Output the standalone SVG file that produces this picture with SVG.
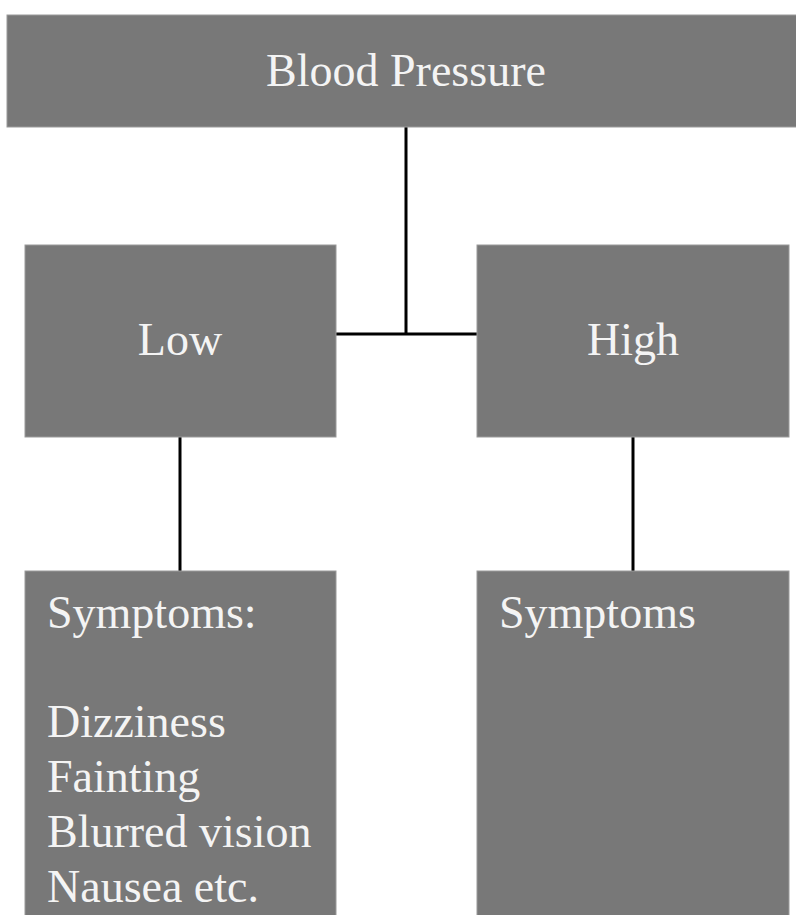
<svg xmlns="http://www.w3.org/2000/svg" width="796" height="915" viewBox="0 0 796 915">
<style>
.box{fill:#787878;stroke:#9a9a9a;stroke-width:1}
.t{font-family:"Liberation Serif","DejaVu Serif",serif;font-size:46px;fill:#f4f4f4}
.c{text-anchor:middle}
.conn{stroke:#000;stroke-width:3;fill:none}
</style>
<rect width="796" height="915" fill="#fff"/>
<g id="connectors">
<path class="conn" d="M406 127V334M336 334H477"/>
<path class="conn" d="M180 437V571"/>
<path class="conn" d="M633 437V571"/>
</g>
<g id="blood-pressure">
<rect class="box" x="7" y="15" width="795" height="112"/>
<text class="t c" x="406" y="86">Blood Pressure</text>
</g>
<g id="low">
<rect class="box" x="25" y="245" width="311" height="192"/>
<text class="t c" x="180" y="355">Low</text>
</g>
<g id="high">
<rect class="box" x="477" y="245" width="312" height="192"/>
<text class="t c" x="633" y="355">High</text>
</g>
<g id="low-symptoms">
<rect class="box" x="25" y="571" width="311" height="350"/>
<text class="t" x="47" y="628">Symptoms:</text>
<text class="t" x="47" y="737">Dizziness</text>
<text class="t" x="47" y="792">Fainting</text>
<text class="t" x="47" y="847">Blurred vision</text>
<text class="t" x="47" y="902">Nausea etc.</text>
</g>
<g id="high-symptoms">
<rect class="box" x="477" y="571" width="312" height="350"/>
<text class="t" x="499" y="628">Symptoms</text>
</g>
</svg>
